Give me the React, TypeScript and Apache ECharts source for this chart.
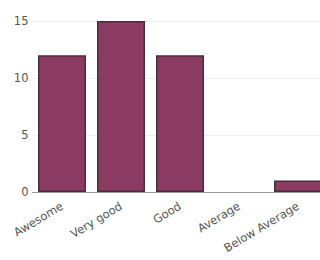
import React, { useEffect, useRef } from "react";
import * as echarts from "echarts";

const categories = ["Awesome", "Very good", "Good", "Average", "Below Average"];
const counts = [12, 15, 12, 0, 1];
const yTicks = [0, 5, 10, 15];

export default function App() {
  const ref = useRef<HTMLDivElement>(null);
  useEffect(() => {
    document.body.style.margin = "0";
    document.body.style.overflow = "hidden";
    const chart = echarts.init(ref.current!, null, { renderer: "svg" });
    chart.setOption({
      animation: false,
      backgroundColor: "#fff",
      grid: { left: 32.5, right: 12.5, top: 21, bottom: 68 },
      xAxis: {
        type: "category",
        data: categories,
        axisLine: { show: true, lineStyle: { color: "#999", width: 1 } },
        axisTick: { show: false },
        axisLabel: {
          rotate: 31,
          interval: 0,
          color: "#555",
          fontFamily: "DejaVu Sans",
          fontSize: 11.5,
          margin: 13,
        },
      },
      yAxis: {
        type: "value",
        min: yTicks[0],
        max: yTicks[yTicks.length - 1],
        interval: 5,
        axisLine: { show: false },
        axisTick: { show: false },
        splitLine: { lineStyle: { color: "#eee", width: 1 } },
        axisLabel: {
          color: "#555",
          fontFamily: "DejaVu Sans",
          fontSize: 11.5,
          margin: 4,
        },
      },
      series: [
        {
          type: "bar",
          data: counts.map((v) => ({
            value: v,
            itemStyle: v === 0 ? { borderWidth: 0 } : undefined,
          })),
          barWidth: 48,
          itemStyle: {
            color: "#8b3a62",
            borderColor: "#4a2d3c",
            borderWidth: 1.5,
          },
        },
      ],
    });
    return () => chart.dispose();
  }, []);
  return (
    <div
      ref={ref}
      style={{ position: "absolute", left: 0, top: 0, width: 340, height: 260 }}
    />
  );
}
